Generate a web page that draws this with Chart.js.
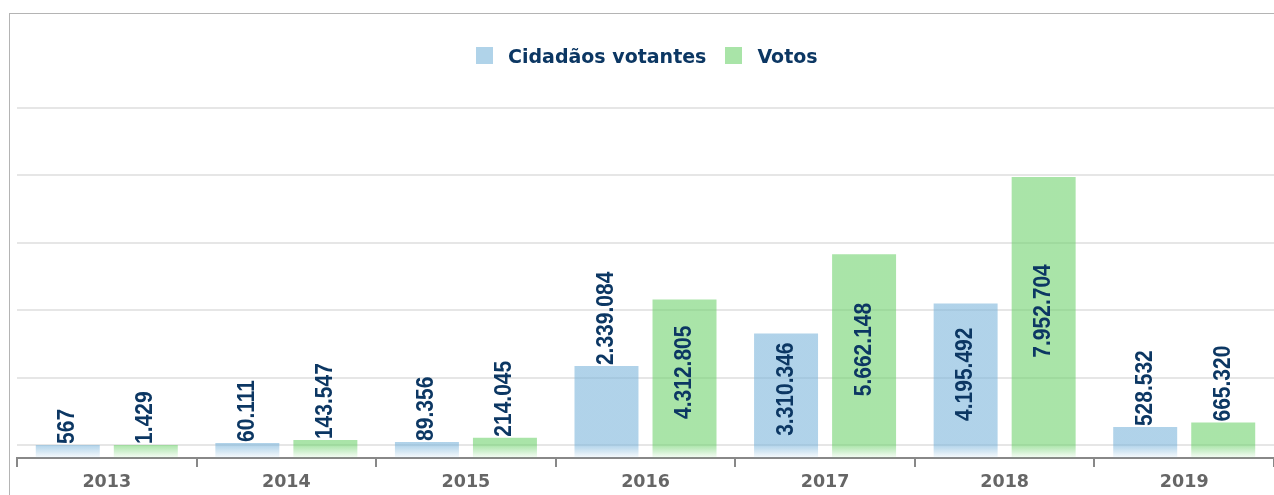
<!DOCTYPE html>
<html>
<head>
<meta charset="utf-8">
<script src="https://cdn.jsdelivr.net/npm/chart.js@4.4.1/dist/chart.umd.min.js"></script>
<style>
  html, body { margin: 0; padding: 0; background: #fff; overflow: hidden; }
  #frame { position: absolute; left: 9px; top: 13px; width: 1400px; height: 600px;
           border-left: 1px solid #b4b4b4; border-top: 1px solid #b4b4b4; }
  #wrap { position: absolute; left: 0; top: 0; width: 1274px; height: 495px; }
  #legend { position: absolute; left: 476px; top: 44px; height: 23px; display: flex; align-items: center;
            font: bold 19px "DejaVu Sans", Verdana, sans-serif; color: #0c3763; white-space: nowrap; }
  #legend i { display: inline-block; width: 17px; height: 17px; margin-right: 15px; }
  #legend span + i { margin-left: 19px; }
</style>
</head>
<body>
<div id="frame"></div>
<div id="wrap"><canvas id="chart"></canvas></div>
<div id="legend"></div>
<script>
const years = ['2013', '2014', '2015', '2016', '2017', '2018', '2019'];
const seriesNames = ['Cidadãos votantes', 'Votos'];
const seriesRgb = ['124,181,219', '112,210,110'];
const cidadaos = [567, 60111, 89356, 2339084, 3310346, 4195492, 528532];
const votos = [1429, 143547, 214045, 4312805, 5662148, 7952704, 665320];
const gridValues = [0, 2000000, 4000000, 6000000, 8000000, 10000000];
const yMin = -388000;
const yMax = 10000000;

const WIDE = '"DejaVu Sans", Verdana, sans-serif';
const LABEL = '"Liberation Sans", Arial, sans-serif';
const fmt = v => String(v).replace(/\B(?=(\d{3})+(?!\d))/g, '.');

// html legend
document.getElementById('legend').innerHTML = seriesNames
  .map((n, i) => `<i style="background:rgba(${seriesRgb[i]},0.6)"></i><span>${n}</span>`).join('');

// solid above zero, fading out below the zero line
function barFill(rgb) {
  return c => {
    const { chart } = c;
    const area = chart.chartArea;
    if (!area) return `rgba(${rgb},0.6)`;
    const y0 = chart.scales.y.getPixelForValue(0);
    const g = chart.ctx.createLinearGradient(0, y0, 0, area.bottom);
    g.addColorStop(0, `rgba(${rgb},0.6)`);
    g.addColorStop(1, `rgba(${rgb},0.05)`);
    return g;
  };
}

// rotated value labels: inside the bar when they fit, otherwise on top
const valueLabels = {
  id: 'valueLabels',
  afterDatasetsDraw(chart) {
    const { ctx } = chart;
    const zero = chart.scales.y.getPixelForValue(0);
    ctx.save();
    ctx.font = 'bold 21px ' + LABEL;
    ctx.fillStyle = '#0c3763';
    ctx.textBaseline = 'middle';
    chart.data.datasets.forEach((ds, i) => {
      chart.getDatasetMeta(i).data.forEach((bar, j) => {
        const txt = fmt(ds.data[j]);
        const w = ctx.measureText(txt).width;
        const inside = zero - bar.y > w + 12;
        ctx.save();
        ctx.translate(bar.x, inside ? (bar.y + zero) / 2 : bar.y - 1);
        ctx.rotate(-Math.PI / 2);
        ctx.scale(1, 1.12); // the original labels look a bit condensed
        ctx.textAlign = inside ? 'center' : 'left';
        ctx.fillText(txt, 0, 0);
        ctx.restore();
      });
    });
    ctx.restore();
  }
};

new Chart(document.getElementById('chart'), {
  type: 'bar',
  data: {
    labels: years,
    datasets: [
      { label: seriesNames[0], data: cidadaos, base: yMin, backgroundColor: barFill(seriesRgb[0]) },
      { label: seriesNames[1], data: votos, base: yMin, backgroundColor: barFill(seriesRgb[1]) },
    ],
  },
  options: {
    responsive: true,
    maintainAspectRatio: false,
    animation: false,
    categoryPercentage: 0.869,
    barPercentage: 0.82,
    layout: { padding: { top: 108, left: 17, right: 0, bottom: -3 } },
    plugins: {
      tooltip: { enabled: false },
      legend: { display: false },
    },
    scales: {
      x: {
        grid: { offset: true, drawOnChartArea: false, tickLength: 9, color: '#888', lineWidth: 2 },
        border: { color: '#888', width: 2 },
        ticks: { color: '#666', padding: 5, font: { family: WIDE, size: 17.5, weight: 'bold' } },
      },
      y: {
        min: yMin,
        max: yMax,
        afterBuildTicks: s => { s.ticks = gridValues.map(v => ({ value: v })); },
        ticks: { display: false },
        grid: { color: '#e6e6e6', lineWidth: 2, drawTicks: false },
        border: { display: false },
      },
    },
  },
  plugins: [valueLabels],
});
</script>
</body>
</html>
